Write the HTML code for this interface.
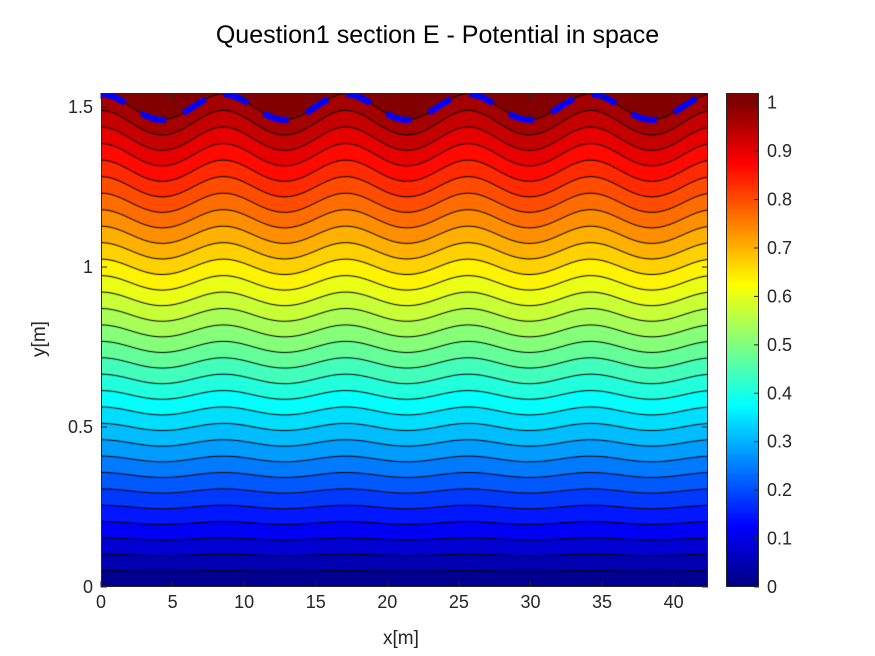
<!DOCTYPE html>
<html><head><meta charset="utf-8">
<style>
html,body{margin:0;padding:0;background:#fff;}
#wrap{position:relative;width:875px;height:656px;font-family:"Liberation Sans",Arial,sans-serif;color:#262626;}
.t{position:absolute;white-space:nowrap;}
canvas{position:absolute;}
</style></head>
<body>
<div id="wrap">
<div class="t" style="left:0;width:875px;text-align:center;top:21px;font-size:25px;color:#000;">Question1 section E - Potential in space</div>
<canvas id="plot" width="607" height="494" style="left:101px;top:93px;"></canvas>
<canvas id="cbar" width="33" height="494" style="left:726px;top:93px;"></canvas>
<svg id="axes" width="875" height="656" style="position:absolute;left:0;top:0;"></svg>
<div class="t" style="left:383px;top:628px;font-size:19px;">x[m]</div>
<div class="t" style="left:22px;top:328px;font-size:19px;transform:rotate(-90deg);transform-origin:center;">y[m]</div>
</div>
<script>
const xTicks=[0,5,10,15,20,25,30,35,40];
const yTicks=[0,0.5,1,1.5];
const cTicks=[0,0.1,0.2,0.3,0.4,0.5,0.6,0.7,0.8,0.9,1];
const domainX=[0,42.4];
const domainY=[0,1.544];
const climits=[0,1.02];
const boundaryMean=[1.5];
const boundaryAmp=[0.04];
const wavePeriod=[8.55];
const levelCount=[31];

const PX=101,PY=93,PW=607,PH=494;
const sx=x=>PX+(x-domainX[0])/(domainX[1]-domainX[0])*PW;
const sy=y=>PY+PH-(y-domainY[0])/(domainY[1]-domainY[0])*PH;
const cy=v=>PY+PH-(v-climits[0])/(climits[1]-climits[0])*PH;
const H=boundaryMean[0],A=boundaryAmp[0],k=2*Math.PI/wavePeriod[0];
function phi(x,y){return y/H-(A/H)*Math.cos(k*x)*Math.sinh(k*y)/Math.sinh(k*H);}
function jet(t){t=Math.max(0,Math.min(1,t));const c=v=>Math.round(255*Math.max(0,Math.min(1,v)));
return [c(1.5-Math.abs(4*t-3)),c(1.5-Math.abs(4*t-2)),c(1.5-Math.abs(4*t-1))];}
const levels=[];for(let i=0;i<levelCount[0];i++)levels.push(i*(1/(levelCount[0]-1))*1.0);
const cv=document.getElementById('plot'),ctx=cv.getContext('2d');
const img=ctx.createImageData(PW,PH);
for(let j=0;j<PH;j++){const y=domainY[0]+(PH-j-0.5)/PH*(domainY[1]-domainY[0]);
for(let i=0;i<PW;i++){const x=domainX[0]+(i+0.5)/PW*(domainX[1]-domainX[0]);
const p=phi(x,y);let b=0;for(let l=0;l<levels.length;l++)if(p>=levels[l])b=l;
const col=jet((levels[b]+0.5/(levelCount[0]-1)-climits[0])/(climits[1]-climits[0]));
const o=(j*PW+i)*4;img.data[o]=col[0];img.data[o+1]=col[1];img.data[o+2]=col[2];img.data[o+3]=255;}}
ctx.putImageData(img,0,0);
ctx.strokeStyle='#000';ctx.lineWidth=1;
levels.slice(1).forEach(L=>{ctx.beginPath();let started=false;
for(let i=0;i<=PW;i++){const x=domainX[0]+i/PW*(domainX[1]-domainX[0]);
let lo=0,hi=domainY[1]*1.2;for(let n=0;n<40;n++){const m=(lo+hi)/2;if(phi(x,m)<L)lo=m;else hi=m;}
const py=sy(lo)-PY;if(!started){ctx.moveTo(i,py);started=true;}else ctx.lineTo(i,py);}
ctx.stroke();});
ctx.strokeStyle='#0000ff';ctx.lineWidth=6;ctx.setLineDash([26,19]);ctx.beginPath();
for(let i=0;i<=PW;i++){const x=domainX[0]+i/PW*(domainX[1]-domainX[0]);const y=H+A*Math.cos(k*x);
const py=sy(y)-PY;if(i==0)ctx.moveTo(i,py);else ctx.lineTo(i,py);}ctx.stroke();
const cb=document.getElementById('cbar'),c2=cb.getContext('2d');
for(let j=0;j<PH;j++){const v=climits[0]+(PH-j-0.5)/PH*(climits[1]-climits[0]);const col=jet(v/1.0);
c2.fillStyle=`rgb(${col[0]},${col[1]},${col[2]})`;c2.fillRect(0,j,33,1);}
const svg=document.getElementById('axes');const NS='http://www.w3.org/2000/svg';
function el(tag,attrs){const e=document.createElementNS(NS,tag);for(const a in attrs)e.setAttribute(a,attrs[a]);svg.appendChild(e);return e;}
const frame=el('rect',{x:PX+0.5,y:PY+0.5,width:PW-1,height:PH-1,fill:'none',stroke:'#262626','stroke-width':1});


xTicks.forEach(t=>{const x=sx(t);
const a=el('line',{x1:x,x2:x,y1:PY+PH,y2:PY+PH-6,stroke:'#262626'});


const b=el('line',{x1:x,x2:x,y1:PY,y2:PY+6,stroke:'#262626'});


const tx=el('text',{x:x,y:PY+PH+21,'text-anchor':'middle','font-size':18,fill:'#262626','font-family':'Liberation Sans, Arial, sans-serif'});
tx.textContent=t;

});
yTicks.forEach(t=>{const y=sy(t);
const a=el('line',{x1:PX,x2:PX+6,y1:y,y2:y,stroke:'#262626'});


const b=el('line',{x1:PX+PW,x2:PX+PW-6,y1:y,y2:y,stroke:'#262626'});


const tx=el('text',{x:PX-8,y:y+6,'text-anchor':'end','font-size':18,fill:'#262626','font-family':'Liberation Sans, Arial, sans-serif'});
tx.textContent=t;

});
const cf=el('rect',{x:726.5,y:PY+0.5,width:32,height:PH-1,fill:'none',stroke:'#262626'});


cTicks.forEach(t=>{const y=cy(t);
const a=el('line',{x1:759,x2:754,y1:y,y2:y,stroke:'#262626'});


const tx=el('text',{x:767,y:y+6,'text-anchor':'start','font-size':18,fill:'#262626','font-family':'Liberation Sans, Arial, sans-serif'});
tx.textContent=t;

});
</script>
</body></html>
